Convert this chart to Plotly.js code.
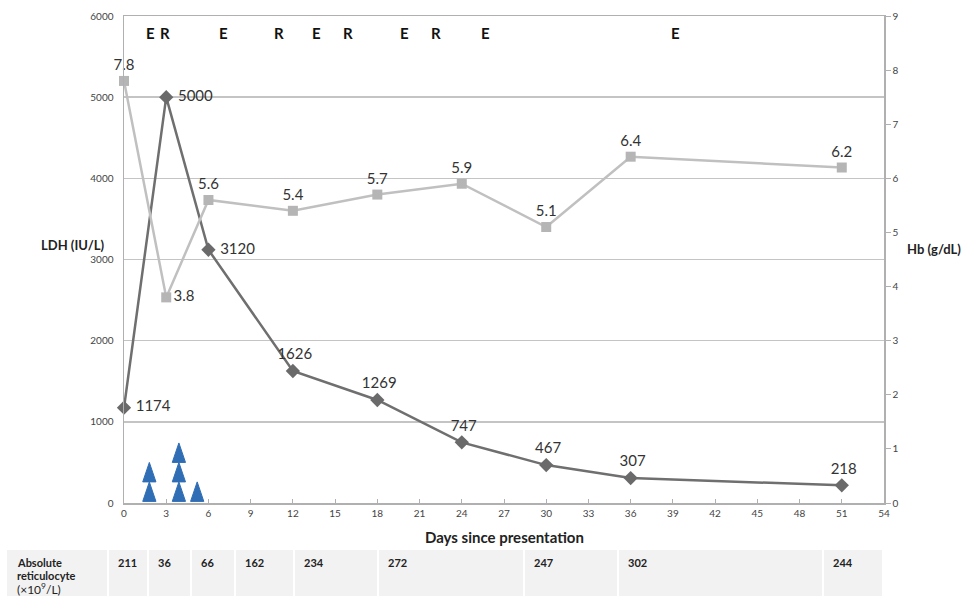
<!DOCTYPE html>
<html>
<head>
<meta charset="utf-8">
<script src="https://cdn.plot.ly/plotly-3.0.1.min.js"></script>
<style>html,body{margin:0;padding:0;background:#fff;}#chart{width:969px;height:596px;}</style>
</head>
<body>
<div id="chart"></div>
<script>
// ---- data ----
const days = [0, 3, 6, 12, 18, 24, 30, 36, 51];
const ldh = [1174, 5000, 3120, 1626, 1269, 747, 467, 307, 218];
const hb = [7.8, 3.8, 5.6, 5.4, 5.7, 5.9, 5.1, 6.4, 6.2];
const ldhLabelPos = ['middle right','middle right','middle right','top center','top center','top center','top center','top center','top center'];
const hbLabelPos = ['top center','middle right','top center','top center','top center','top center','top center','top center','top center'];

const eventDays = [1.85, 2.9, 7.1, 11.0, 13.7, 15.9, 19.9, 22.2, 25.7, 39.2];
const eventLabels = ['E', 'R', 'E', 'R', 'E', 'R', 'E', 'R', 'E', 'E'];

const treatDays = [1.8, 3.9, 5.2];
const treatCounts = [2, 3, 1];

const reticLabel = ['Absolute', 'reticulocyte', '(×10<sup>9</sup>/L)'];
const reticValues = ['211', '36', '66', '162', '234', '272', '247', '302', '244'];

// ---- layout geometry (pixels) ----
const W = 969, H = 596;
const L = 124, R = 884, T = 16, B = 503;
const px2x = p => (p - L) / (R - L);
const py2y = p => (B - p) / (B - T);
const cellEdges = [6, 108, 148, 191, 235, 294, 378, 524, 618, 823, 883];
const cellTop = 550, cellBottom = 600;

// triangle geometry (in axis units)
const triHalfW = 0.47;   // days
const triH = 240;        // LDH units
const triX = [], triY = [];
treatDays.forEach((d, i) => {
  for (let k = 0; k < treatCounts[i]; k++) {
    const b = 20 + k * triH;
    triX.push(d - triHalfW, d + triHalfW, d, d - triHalfW, null);
    triY.push(b, b, b + triH, b, null);
  }
});

const FONT = 'Lato, "Open Sans", sans-serif';
const labelFont = {family: FONT, size: 15, color: '#333'};

const traces = [
  {
    x: triX, y: triY, type: 'scatter', mode: 'lines', fill: 'toself',
    fillcolor: '#2f6db5', line: {color: '#2f6db5', width: 1},
    hoverinfo: 'skip', showlegend: false
  },
  {
    x: days, y: hb, yaxis: 'y2', type: 'scatter', mode: 'lines+markers+text',
    line: {color: '#c0c0c0', width: 2.5},
    marker: {symbol: 'square', size: 10, color: '#b5b5b5'},
    text: hb.map(v => v.toFixed(1)), textposition: hbLabelPos,
    textfont: labelFont, cliponaxis: false, showlegend: false
  },
  {
    x: days, y: ldh, type: 'scatter', mode: 'lines+markers+text',
    line: {color: '#6f6f6f', width: 2.5},
    marker: {symbol: 'diamond', size: 11, color: '#6a6a6a'},
    text: ldh.map(v => '\u00a0' + v), textposition: ldhLabelPos,
    textfont: labelFont, cliponaxis: false, showlegend: false
  }
];

const annotations = [];
eventDays.forEach((d, i) => {
  annotations.push({
    x: d, xref: 'x', y: py2y(33), yref: 'paper', xanchor: 'center', yanchor: 'middle',
    text: '<b>' + eventLabels[i] + '</b>',
    showarrow: false, font: {family: FONT, size: 15, color: '#111'}
  });
});
annotations.push({
  x: px2x(72), xref: 'paper', y: py2y(245), yref: 'paper', xanchor: 'center', yanchor: 'middle',
  text: '<b>LDH (IU/L)</b>',
  showarrow: false, font: {family: FONT, size: 13, color: '#222'}
});
annotations.push({
  x: px2x(934), xref: 'paper', y: py2y(249), yref: 'paper', xanchor: 'center', yanchor: 'middle',
  text: '<b>Hb (g/dL)</b>',
  showarrow: false, font: {family: FONT, size: 13, color: '#222'}
});
annotations.push({
  x: px2x(504), xref: 'paper', y: py2y(537), yref: 'paper', xanchor: 'center', yanchor: 'middle',
  text: '<b>Days since presentation</b>',
  showarrow: false, font: {family: FONT, size: 15, color: '#222'}
});

const shapes = [];
for (let i = 0; i < cellEdges.length - 1; i++) {
  shapes.push({
    type: 'rect', xref: 'paper', yref: 'paper', layer: 'below',
    x0: px2x(cellEdges[i] + 1), x1: px2x(cellEdges[i + 1] - 1),
    y0: py2y(cellTop), y1: py2y(cellBottom),
    fillcolor: '#f2f2f2', line: {width: 0}
  });
}
reticLabel.forEach((t, k) => {
  annotations.push({
    x: px2x(15), xref: 'paper', y: py2y(562 + k * 13.5), yref: 'paper',
    xanchor: 'left', yanchor: 'middle', showarrow: false,
    text: k < 2 ? '<b>' + t + '</b>' : t,
    font: {family: FONT, size: k < 2 ? 11 : 12, color: '#222'}
  });
});
reticValues.forEach((v, i) => {
  annotations.push({
    x: px2x(cellEdges[i + 1] + 8), xref: 'paper', y: py2y(562), yref: 'paper',
    xanchor: 'left', yanchor: 'middle', showarrow: false,
    text: '<b>' + v + '</b>',
    font: {family: FONT, size: 11, color: '#222'}
  });
});

const layout = {
  width: W, height: H,
  margin: {l: L, r: W - R, t: T, b: H - B},
  paper_bgcolor: '#fff', plot_bgcolor: '#fff',
  font: {family: FONT, color: '#444'},
  xaxis: {
    range: [0, 54], dtick: 3, tick0: 0, showgrid: false, zeroline: false,
    showline: true, linecolor: '#b0b0b0', linewidth: 1.5, mirror: true,
    ticks: 'inside', ticklen: 4, tickcolor: '#b0b0b0',
    tickfont: {size: 10, color: '#444'}, fixedrange: true
  },
  yaxis: {
    range: [0, 6000], dtick: 1000, showgrid: true, gridcolor: '#c4c4c4', gridwidth: 1.5,
    zeroline: false, showline: true, linecolor: '#b0b0b0', linewidth: 1.5, ticks: '',
    tickfont: {size: 10, color: '#444'}, ticklabelstandoff: 7
  },
  yaxis2: {
    range: [0, 9], dtick: 1, overlaying: 'y', side: 'right', showgrid: false,
    zeroline: false, showline: true, linecolor: '#b0b0b0', linewidth: 1.5,
    ticks: 'outside', ticklen: 5, tickcolor: '#b0b0b0',
    tickfont: {size: 10, color: '#444'}
  },
  annotations: annotations,
  shapes: shapes,
  showlegend: false
};

Plotly.newPlot('chart', traces, layout, {staticPlot: true});
</script>
</body>
</html>
